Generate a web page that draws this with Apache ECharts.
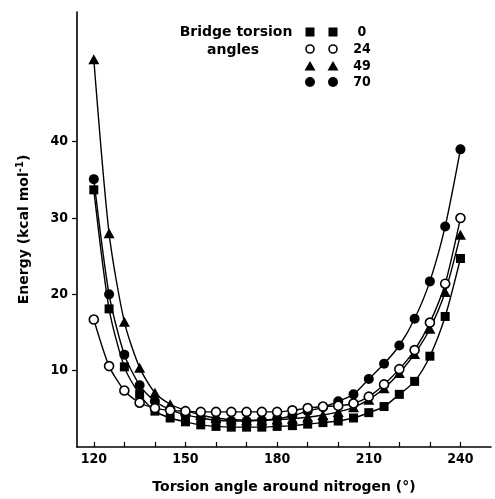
<!DOCTYPE html>
<html><head><meta charset="utf-8">
<script src="https://cdn.jsdelivr.net/npm/echarts@6/dist/echarts.min.js"></script>
<style>html,body{margin:0;padding:0;background:#fff}#c{width:495px;height:499px}</style>
</head><body><div id="c"></div>
<script>
// Torsion angle around nitrogen (degrees)
const angles = [120,125,130,135,140,145,150,155,160,165,170,175,180,185,190,195,200,205,210,215,220,225,230,235,240];
// Energy (kcal/mol) for bridge torsion angles 0, 24, 49, 70
const e0  = [33.7,18.1,10.5,6.9,4.7,3.8,3.3,2.9,2.7,2.6,2.6,2.6,2.7,2.8,3.0,3.2,3.4,3.8,4.5,5.3,6.9,8.6,11.9,17.1,24.7];
const e24 = [16.7,10.6,7.4,5.8,5.1,4.8,4.7,4.6,4.6,4.6,4.6,4.6,4.6,4.8,5.1,5.3,5.4,5.7,6.6,8.2,10.2,12.7,16.3,21.4,30.0];
const e49 = [50.8,28.0,16.4,10.4,7.1,5.6,4.8,4.2,3.8,3.6,3.5,3.5,3.6,3.7,3.9,4.2,4.6,5.2,6.2,7.7,9.7,12.2,15.5,20.3,27.8];
const e70 = [35.1,20.0,12.1,8.1,6.0,4.9,4.2,3.8,3.5,3.4,3.4,3.5,3.7,4.1,4.7,5.2,6.0,6.9,8.9,10.9,13.3,16.8,21.7,28.9,39.0];
const seriesNames = ['0','24','49','70'];
const xTicks = [120,130,140,150,160,170,180,190,200,210,220,230,240];
const xLabels = [120,150,180,210,240];
const yLabels = [10,20,30,40];

const pair = arr => angles.map((a,i)=>[a,arr[i]]);
const FONT = 'DejaVu Sans';
const W = 'bold';
const common = {
  type:'line', smooth:0.25, showAllSymbol:true, animation:false,
  lineStyle:{color:'#000',width:1.4}, z:3
};
const chart = echarts.init(document.getElementById('c'), null, {renderer:'canvas'});

const legendX = 362, symX1 = 310, symX2 = 333, rowY = [32,49,66,82];
const legendGraphics = [
  {type:'text', style:{text:'Bridge torsion', x:236, y:32, align:'center', verticalAlign:'middle', font:'bold 14px "DejaVu Sans"', fill:'#000'}},
  {type:'text', style:{text:'angles', x:233, y:50, align:'center', verticalAlign:'middle', font:'bold 14px "DejaVu Sans"', fill:'#000'}}
];
function sym(kind, cx, cy){
  if(kind==='rect') return {type:'rect', shape:{x:cx-4.5,y:cy-4.5,width:9,height:9}, style:{fill:'#000'}};
  if(kind==='open') return {type:'circle', shape:{cx:cx,cy:cy,r:4}, style:{fill:'#fff',stroke:'#000',lineWidth:1.6}};
  if(kind==='tri') return {type:'polygon', shape:{points:[[cx,cy-5],[cx+5.5,cy+4.5],[cx-5.5,cy+4.5]]}, style:{fill:'#000'}};
  return {type:'circle', shape:{cx:cx,cy:cy,r:5}, style:{fill:'#000'}};
}
const kinds = ['rect','open','tri','dot'];
seriesNames.forEach((n,i)=>{
  legendGraphics.push(sym(kinds[i], symX1, rowY[i]));
  legendGraphics.push(sym(kinds[i], symX2, rowY[i]));
  legendGraphics.push({type:'text', style:{text:n, x:legendX, y:rowY[i], align:'center', verticalAlign:'middle', font:'bold 14px "DejaVu Sans Condensed"', fill:'#000'}});
});

chart.setOption({
  backgroundColor:'#fff',
  animation:false,
  grid:{left:77, right:4, top:12, bottom:50},
  xAxis:{
    type:'value', min:114.5, max:250,
    name:'Torsion angle around nitrogen (°)', nameLocation:'middle', nameGap:33,
    nameTextStyle:{fontFamily:FONT, fontWeight:W, fontSize:14, color:'#000'},
    axisLine:{show:true, lineStyle:{color:'#000', width:1.6}},
    axisTick:{show:true, inside:true, length:5, customValues:xTicks, lineStyle:{color:'#000', width:1.2}},
    axisLabel:{customValues:xLabels, margin:5, fontFamily:'DejaVu Sans Condensed', fontWeight:W, fontSize:14, color:'#000'},
    splitLine:{show:false}
  },
  yAxis:{
    type:'value', min:0, max:57,
    name:'Energy (kcal mol{sup|-1})', nameLocation:'middle', nameGap:44, nameRotate:90,
    nameTextStyle:{fontFamily:FONT, fontWeight:W, fontSize:14, color:'#000',
      rich:{sup:{fontFamily:FONT, fontWeight:W, fontSize:10, color:'#000', padding:[0,0,8,0]}}},
    axisLine:{show:true, lineStyle:{color:'#000', width:1.6}},
    axisTick:{show:true, inside:false, length:5, customValues:yLabels, lineStyle:{color:'#000', width:1.2}},
    axisLabel:{customValues:yLabels, margin:9, fontFamily:'DejaVu Sans Condensed', fontWeight:W, fontSize:14, color:'#000'},
    splitLine:{show:false}
  },
  graphic:legendGraphics,
  series:[
    Object.assign({}, common, {name:seriesNames[0], data:pair(e0), symbol:'rect', symbolSize:9, itemStyle:{color:'#000'}}),
    Object.assign({}, common, {name:seriesNames[2], data:pair(e49), symbol:'triangle', symbolSize:[11,10], itemStyle:{color:'#000'}}),
    Object.assign({}, common, {name:seriesNames[3], data:pair(e70), symbol:'circle', symbolSize:10, itemStyle:{color:'#000'}}),
    Object.assign({}, common, {name:seriesNames[1], data:pair(e24), symbol:'circle', symbolSize:9, itemStyle:{color:'#fff', borderColor:'#000', borderWidth:1.6}, z:4})
  ]
});
</script>
</body></html>
